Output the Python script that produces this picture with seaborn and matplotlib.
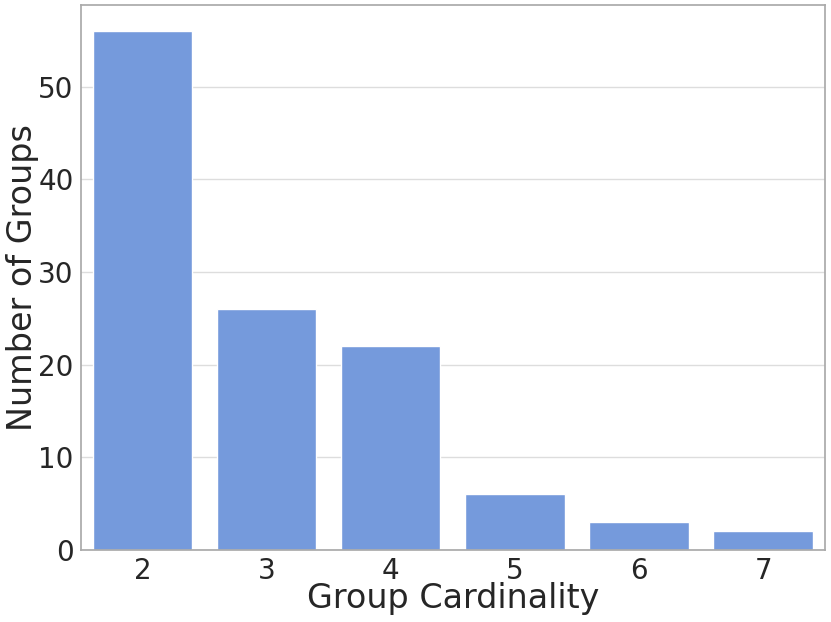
import matplotlib
matplotlib.use("Agg")
import matplotlib.pyplot as plt
import seaborn as sns
import pandas as pd

cardinality = ["2", "3", "4", "5", "6", "7"]
num_groups = [56, 26, 22, 6, 3, 2]

sns.set_theme(style="whitegrid")
plt.rcParams['font.family'] = ['DejaVu Sans']

df = pd.DataFrame({"Group Cardinality": cardinality, "Number of Groups": num_groups})

fig, ax = plt.subplots(figsize=(8.31, 6.22), dpi=100)
sns.barplot(data=df, x="Group Cardinality", y="Number of Groups", color="cornflowerblue", ax=ax)
ax.set_xlabel("Group Cardinality", fontsize=24, va="center")
ax.set_ylabel("Number of Groups", fontsize=24, va="center")
ax.xaxis.set_label_coords(0.5, -0.09)
ax.yaxis.set_label_coords(-0.078, 0.5)
ax.tick_params(axis="both", labelsize=20, length=0, pad=5)
for s in ax.spines.values():
    s.set_color("#aaaaaa")
ax.grid(axis="x", visible=False)
ax.grid(axis="y", color="#dddddd")
fig.subplots_adjust(left=0.097, right=0.993, top=0.992, bottom=0.116)
fig.savefig("out.png", dpi=100)
